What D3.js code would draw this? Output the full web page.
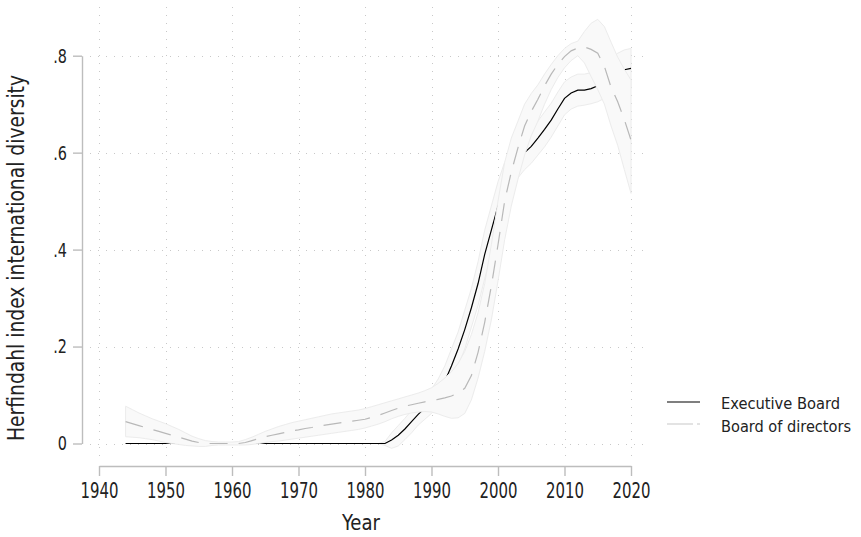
<!DOCTYPE html>
<html><head><meta charset="utf-8">
<script src="https://cdn.jsdelivr.net/npm/d3@7"></script>
<style>
body{margin:0;background:#fff}
text{font-family:"Liberation Sans Narrow","DejaVu Sans Condensed","Roboto",sans-serif;fill:#222}
</style>
</head><body>
<svg id="chart" width="861" height="537"></svg>
<script>
const years=[1944,1945,1946,1947,1948,1949,1950,1951,1952,1953,1954,1955,1956,1957,1958,1959,1960,1961,1962,1963,1964,1965,1966,1967,1968,1969,1970,1971,1972,1973,1974,1975,1976,1977,1978,1979,1980,1981,1982,1983,1984,1985,1986,1987,1988,1989,1990,1991,1992,1993,1994,1995,1996,1997,1998,1999,2000,2001,2002,2003,2004,2005,2006,2007,2008,2009,2010,2011,2012,2013,2014,2015,2016,2017,2018,2019,2020];

const execMean=[0,0,0,0,0,0,0,0,0,0, 0,0,0,0,0,0,0,0,0,0, 0,0,0,0,0,0,0,0,0,0, 0,0,0,0,0,0,0,0,0,
0,0.007,0.017,0.03,0.045,0.06,0.073,0.087,
0.105,0.128,0.16,0.195,0.235,0.28,0.33,0.39,0.44,0.49,
0.535,0.565,0.585,0.6,0.613,0.63,0.648,0.667,0.69,0.712,
0.723,0.729,0.729,0.732,0.738,0.748,0.756,0.764,0.771,0.774];
const execLo=[0,0,0,0,0,0,0,0,0,0, 0,0,0,0,0,0,0,0,0,0, 0,0,0,0,0,0,0,0,0,0, 0,0,0,0,0,0,0,0,0,
-0.004,-0.01,-0.005,0.008,0.022,0.038,0.05,0.062,
0.077,0.096,0.125,0.16,0.195,0.24,0.285,0.34,0.39,0.44,
0.49,0.525,0.548,0.565,0.578,0.595,0.612,0.632,0.655,0.678,
0.69,0.696,0.698,0.701,0.705,0.712,0.717,0.723,0.728,0.732];
const execHi=[0,0,0,0,0,0,0,0,0,0, 0,0,0,0,0,0,0,0,0,0, 0,0,0,0,0,0,0,0,0,0, 0,0,0,0,0,0,0,0,0,
0.004,0.022,0.037,0.052,0.068,0.082,0.096,0.112,
0.133,0.16,0.195,0.23,0.275,0.32,0.375,0.44,0.49,0.54,
0.58,0.605,0.622,0.635,0.648,0.665,0.684,0.702,0.725,0.746,
0.756,0.762,0.762,0.765,0.772,0.784,0.795,0.805,0.812,0.815];

const boardMean=[0.045,0.041,0.037,0.033,0.029,0.025,0.021,0.017,0.013,0.009,
0.005,0.002,0,0,0,0,0,0,0.002,0.006,
0.01,0.014,0.017,0.02,0.023,0.026,0.028,0.031,0.033,0.036,
0.038,0.04,0.042,0.044,0.046,0.048,0.05,0.054,0.058,0.063,
0.068,0.073,0.077,0.08,0.083,0.086,0.088,0.091,0.094,0.098,
0.104,0.114,0.14,0.188,0.25,0.325,0.41,0.5,0.56,0.61,
0.655,0.685,0.71,0.738,0.762,0.782,0.798,0.81,0.816,0.818,
0.813,0.805,0.778,0.735,0.705,0.668,0.626];
const boardLo=[0.014,0.013,0.012,0.01,0.008,0.005,0.002,0,-0.002,-0.004,
-0.005,-0.006,-0.006,-0.004,-0.003,-0.003,-0.003,-0.003,-0.003,-0.002,
0,0.002,0.004,0.005,0.007,0.009,0.011,0.013,0.015,0.017,
0.019,0.021,0.023,0.025,0.027,0.029,0.032,0.036,0.04,0.045,
0.051,0.056,0.06,0.063,0.065,0.066,0.065,0.061,0.056,0.052,
0.053,0.062,0.09,0.135,0.19,0.255,0.335,0.42,0.49,0.545,
0.595,0.635,0.665,0.7,0.73,0.755,0.775,0.79,0.8,0.785,
0.757,0.73,0.7,0.655,0.615,0.565,0.516];
const boardHi=[0.077,0.07,0.063,0.057,0.051,0.046,0.041,0.035,0.029,0.022,
0.015,0.01,0.006,0.004,0.003,0.003,0.003,0.004,0.008,0.013,
0.019,0.025,0.03,0.035,0.039,0.043,0.046,0.049,0.052,0.055,
0.058,0.061,0.063,0.065,0.067,0.069,0.072,0.076,0.08,0.084,
0.088,0.092,0.096,0.1,0.104,0.109,0.115,0.124,0.135,0.148,
0.165,0.19,0.225,0.27,0.33,0.41,0.5,0.58,0.63,0.665,
0.7,0.722,0.74,0.762,0.782,0.8,0.815,0.825,0.83,0.85,
0.867,0.875,0.86,0.828,0.797,0.772,0.75];

const xTicks=[1940,1950,1960,1970,1980,1990,2000,2010,2020];
const yTicks=[0,0.2,0.4,0.6,0.8];
const yTickLabels=["0",".2",".4",".6",".8"];
const seriesNames=["Executive Board","Board of directors"];
const xTitle="Year";
const yTitle="Herfindahl index international diversity";

const svg=d3.select("#chart");
const x=d3.scaleLinear().domain([1940,2020]).range([99,631]);
const y=d3.scaleLinear().domain([0,0.8]).range([443.5,55.7]);
const plot={left:90,right:647,top:7,bottom:460};

function squeeze(sel,k){
  sel.each(function(){
    const w=this.getComputedTextLength();
    d3.select(this).attr("textLength",w*k).attr("lengthAdjust","spacingAndGlyphs");
  });
}
function fitTo(sel,w){
  sel.attr("textLength",w).attr("lengthAdjust","spacingAndGlyphs");
}

// gridlines
const grid=svg.append("g").attr("stroke","#c8c8c8").attr("stroke-width",1).attr("stroke-dasharray","1,7");
grid.selectAll(".gx").data(xTicks).join("line")
  .attr("x1",d=>Math.round(x(d))+0.5).attr("x2",d=>Math.round(x(d))+0.5)
  .attr("y1",plot.top).attr("y2",plot.bottom);
grid.selectAll(".gy").data(yTicks).join("line")
  .attr("y1",d=>Math.round(y(d))+0.5).attr("y2",d=>Math.round(y(d))+0.5)
  .attr("x1",plot.left).attr("x2",plot.right);

const execData=years.map((yr,i)=>({yr,m:execMean[i],lo:execLo[i],hi:execHi[i]}));
const boardData=years.map((yr,i)=>({yr,m:boardMean[i],lo:boardLo[i],hi:boardHi[i]}));

const area=d3.area().x(d=>x(d.yr)).y0(d=>y(d.lo)).y1(d=>y(d.hi));
const line=d3.line().x(d=>x(d.yr)).y(d=>y(d.m));

svg.append("path").datum(execData).attr("d",area)
  .attr("fill","#f9f9f9").attr("stroke","#ececec").attr("stroke-width",1);
svg.append("path").datum(execData).attr("d",line)
  .attr("fill","none").attr("stroke","#000").attr("stroke-width",1.2);
svg.append("path").datum(boardData).attr("d",area)
  .attr("fill","#f9f9f9").attr("stroke","#ececec").attr("stroke-width",1);
svg.append("path").datum(boardData).attr("d",line)
  .attr("fill","none").attr("stroke","#b8b8b8").attr("stroke-width",1.2).attr("stroke-dasharray","18,11");

// axes
const yAxis=svg.append("g").attr("transform","translate(82,0)")
  .call(d3.axisLeft(y).tickValues(yTicks).tickFormat((d,i)=>yTickLabels[i]).tickSize(9).tickSizeOuter(0).tickPadding(6));
const xAxis=svg.append("g").attr("transform","translate(0,466)")
  .call(d3.axisBottom(x).tickValues(xTicks).tickFormat(d3.format("d")).tickSize(10).tickSizeOuter(0).tickPadding(7));
[yAxis,xAxis].forEach(a=>{
  a.select(".domain").attr("stroke","#bdbdbd").attr("stroke-width",1.4);
  a.selectAll(".tick line").attr("stroke","#bdbdbd").attr("stroke-width",1.4);
  a.selectAll("text").attr("fill","#222").style("font-family",null);
});
yAxis.selectAll("text").attr("font-size",20);
xAxis.selectAll("text").attr("font-size",21);
squeeze(yAxis.selectAll("text"),0.8);
squeeze(xAxis.selectAll("text"),0.79);

const xt=svg.append("text").attr("x",361).attr("y",530).attr("text-anchor","middle").attr("font-size",21).text(xTitle);
fitTo(xt,38);
const yt=svg.append("text").attr("transform","translate(24,258) rotate(-90)").attr("text-anchor","middle").attr("font-size",23).text(yTitle);
fitTo(yt,366);

// legend
const leg=svg.append("g");
leg.append("line").attr("x1",667).attr("x2",700).attr("y1",402).attr("y2",402).attr("stroke","#000").attr("stroke-width",1.2);
leg.append("line").attr("x1",667).attr("x2",700).attr("y1",424).attr("y2",424).attr("stroke","#c8c8c8").attr("stroke-width",1.2).attr("stroke-dasharray","26,4");
const legendWidths=[119,130];
leg.selectAll(".lt").data(seriesNames).join("text")
  .attr("x",721).attr("y",(d,i)=>408.5+i*23).attr("font-size",16).text(d=>d)
  .attr("textLength",(d,i)=>legendWidths[i]).attr("lengthAdjust","spacingAndGlyphs");
</script>
</body></html>
